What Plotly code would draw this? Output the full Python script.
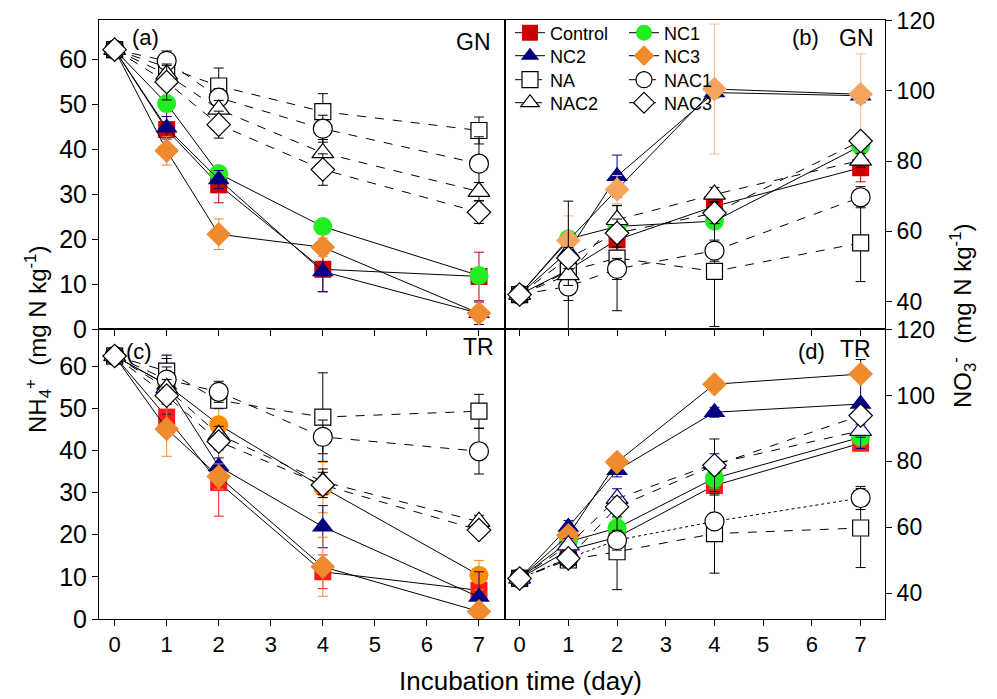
import plotly.graph_objects as go

# ---------------- data ----------------
days = [0, 1, 2, 4, 7]
x_tick_vals = [0, 1, 2, 3, 4, 5, 6, 7]
nh4_ticks = [0, 10, 20, 30, 40, 50, 60]
no3_ticks = [40, 60, 80, 100, 120]
series_names = ["Control", "NC1", "NC2", "NC3", "NA", "NAC1", "NAC2", "NAC3"]

# (a) GN, NH4+
gn_nh4_control = [62.2, 44.4, 32.1, 13.3, 11.7]
gn_nh4_nc1 = [62.2, 50.2, 34.6, 22.8, 11.9]
gn_nh4_nc2 = [62.2, 44.8, 33.3, 12.8, 3.5]
gn_nh4_nc3 = [62.2, 39.7, 21.1, 18.2, 3.5]
gn_nh4_na = [62.2, 58.3, 54.1, 48.4, 44.2]
gn_nh4_nac1 = [62.2, 59.7, 51.5, 44.6, 36.8]
gn_nh4_nac2 = [62.2, 56.7, 48.9, 39.2, 30.6]
gn_nh4_nac3 = [62.2, 55.0, 45.5, 35.5, 26.0]
gn_nh4_control_err = [1.5, 4, 4, 5, 5.4]
gn_nh4_nc1_err = [1, 1.5, 1, 1.5, 1]
gn_nh4_nc2_err = [1, 2.5, 2, 4.5, 2.5]
gn_nh4_nc3_err = [1, 3.2, 3.4, 2, 1.5]
gn_nh4_na_err = [1.5, 1.5, 4, 4, 3]
gn_nh4_nac1_err = [1, 2.2, 2, 3, 6]
gn_nh4_nac2_err = [1.5, 2, 2, 3, 2]
gn_nh4_nac3_err = [1.5, 4, 3, 3.5, 2.5]

# (b) GN, NO3-
gn_no3_control = [42, 49.0, 57.6, 67.1, 78.1]
gn_no3_nc1 = [42, 57.8, 61.4, 62.9, 84.3]
gn_no3_nc2 = [42, 54.3, 75.7, 99.5, 98.6]
gn_no3_nc3 = [42, 57.4, 71.9, 100.5, 99.0]
gn_no3_na = [42, 48.6, 52.4, 48.6, 56.7]
gn_no3_nac1 = [42, 44.3, 49.3, 54.5, 69.7]
gn_no3_nac2 = [42, 47.6, 63.3, 70.5, 80.2]
gn_no3_nac3 = [42, 52.4, 59.5, 65.2, 85.7]
gn_no3_control_err = [1, 6, 3, 2, 4]
gn_no3_nc1_err = [1, 2, 3, 2, 2]
gn_no3_nc2_err = [1, 3, 6, 1.5, 2]
gn_no3_nc3_err = [1, 7, 4, 18.5, 11.5]
gn_no3_na_err = [1, 20, 15, 15.7, 11]
gn_no3_nac1_err = [1, 4, 3, 3, 3]
gn_no3_nac2_err = [1, 3, 4, 2, 2]
gn_no3_nac3_err = [1, 3, 4, 3, 2]

# (c) TR, NH4+
tr_nh4_control = [62.4, 47.9, 32.4, 11.2, 6.8]
tr_nh4_nc1 = [62.4, 55.6, 46.1, 31.2, 10.4]
tr_nh4_nc2 = [62.4, 55.6, 36.2, 21.9, 5.2]
tr_nh4_nc3 = [62.4, 45.1, 33.8, 12.4, 1.8]
tr_nh4_na = [62.4, 58.8, 51.9, 47.9, 49.3]
tr_nh4_nac1 = [62.4, 56.8, 53.9, 43.2, 39.8]
tr_nh4_nac2 = [62.4, 54.8, 43.7, 32.6, 23.1]
tr_nh4_nac3 = [62.4, 53.0, 42.1, 31.8, 21.1]
tr_nh4_control_err = [1.5, 3, 8, 4, 2]
tr_nh4_nc1_err = [1, 7, 5, 6, 3.5]
tr_nh4_nc2_err = [1, 7, 2, 5, 6]
tr_nh4_nc3_err = [1, 6.5, 3, 7, 1]
tr_nh4_na_err = [1, 3, 2, 10.5, 4]
tr_nh4_nac1_err = [1, 3, 2.5, 4, 5.4]
tr_nh4_nac2_err = [1, 2, 2, 3, 1.5]
tr_nh4_nac3_err = [1, 2, 2, 3, 1.5]

# (d) TR, NO3-
tr_no3_control = [44.5, 53.1, 57.0, 72.7, 85.5]
tr_no3_nc1 = [44.5, 55.6, 59.8, 74.9, 87.3]
tr_no3_nc2 = [44.5, 60.1, 77.3, 94.9, 97.4]
tr_no3_nc3 = [44.5, 57.6, 79.8, 103.4, 106.5]
tr_no3_na = [44.5, 50.1, 52.6, 58.1, 59.8]
tr_no3_nac1 = [44.5, 50.6, 56.1, 61.8, 68.9]
tr_no3_nac2 = [44.5, 54.6, 68.7, 79.3, 89.3]
tr_no3_nac3 = [44.5, 50.6, 66.2, 78.8, 93.9]
tr_no3_control_err = [1.5, 2, 3, 3, 2]
tr_no3_nc1_err = [1.5, 2, 3, 3, 2]
tr_no3_nc2_err = [1.5, 2, 2, 1.5, 13.5]
tr_no3_nc3_err = [1.5, 2, 1, 1.5, 1.5]
tr_no3_na_err = [1.5, 2, 11.5, 12, 12]
tr_no3_nac1_err = [1.5, 2, 3, 2, 3.5]
tr_no3_nac2_err = [1.5, 2, 3, 3, 2]
tr_no3_nac3_err = [1.5, 2, 3, 8, 2]

panel_a = dict(zip(series_names, [gn_nh4_control, gn_nh4_nc1, gn_nh4_nc2, gn_nh4_nc3,
                                  gn_nh4_na, gn_nh4_nac1, gn_nh4_nac2, gn_nh4_nac3]))
panel_a_err = dict(zip(series_names, [gn_nh4_control_err, gn_nh4_nc1_err, gn_nh4_nc2_err, gn_nh4_nc3_err,
                                      gn_nh4_na_err, gn_nh4_nac1_err, gn_nh4_nac2_err, gn_nh4_nac3_err]))
panel_b = dict(zip(series_names, [gn_no3_control, gn_no3_nc1, gn_no3_nc2, gn_no3_nc3,
                                  gn_no3_na, gn_no3_nac1, gn_no3_nac2, gn_no3_nac3]))
panel_b_err = dict(zip(series_names, [gn_no3_control_err, gn_no3_nc1_err, gn_no3_nc2_err, gn_no3_nc3_err,
                                      gn_no3_na_err, gn_no3_nac1_err, gn_no3_nac2_err, gn_no3_nac3_err]))
panel_c = dict(zip(series_names, [tr_nh4_control, tr_nh4_nc1, tr_nh4_nc2, tr_nh4_nc3,
                                  tr_nh4_na, tr_nh4_nac1, tr_nh4_nac2, tr_nh4_nac3]))
panel_c_err = dict(zip(series_names, [tr_nh4_control_err, tr_nh4_nc1_err, tr_nh4_nc2_err, tr_nh4_nc3_err,
                                      tr_nh4_na_err, tr_nh4_nac1_err, tr_nh4_nac2_err, tr_nh4_nac3_err]))
panel_d = dict(zip(series_names, [tr_no3_control, tr_no3_nc1, tr_no3_nc2, tr_no3_nc3,
                                  tr_no3_na, tr_no3_nac1, tr_no3_nac2, tr_no3_nac3]))
panel_d_err = dict(zip(series_names, [tr_no3_control_err, tr_no3_nc1_err, tr_no3_nc2_err, tr_no3_nc3_err,
                                      tr_no3_na_err, tr_no3_nac1_err, tr_no3_nac2_err, tr_no3_nac3_err]))

# ---------------- styles ----------------
FONT = "Arial, 'Liberation Sans', sans-serif"
RED = "#CC0000"
RED2 = "#FF1A1A"
GREEN = "#22EE22"
NAVY = "#000080"
ORANGE = "#EF8A2F"
ORANGE_LIGHT = "#F5A560"
ORANGE_ERR_LIGHT = "#F7BE8C"
BRIGHT_ORANGE = "#FF8C00"

base_style = {
    "Control": dict(symbol="square", size=17, fill=RED, edge=RED, ew=0, dash="solid", ecolor=RED),
    "NC1": dict(symbol="circle", size=19, fill=GREEN, edge=GREEN, ew=0, dash="solid", ecolor=GREEN),
    "NC2": dict(symbol="triangle-up", size=19, fill=NAVY, edge=NAVY, ew=0, dash="solid", ecolor=NAVY),
    "NC3": dict(symbol="diamond", size=19, fill=ORANGE, edge=ORANGE, ew=0, dash="solid", ecolor=ORANGE),
    "NA": dict(symbol="square", size=16, fill="white", edge="black", ew=1.2, dash="dash", ecolor="black"),
    "NAC1": dict(symbol="circle", size=19, fill="white", edge="black", ew=1.2, dash="dash", ecolor="black"),
    "NAC2": dict(symbol="triangle-up", size=19, fill="white", edge="black", ew=1.2, dash="dash", ecolor="black"),
    "NAC3": dict(symbol="diamond", size=18, fill="white", edge="black", ew=1.2, dash="dash", ecolor="black"),
}
overrides = {
    "a": {},
    "b": {"NC3": dict(fill=ORANGE_LIGHT, edge=ORANGE_LIGHT, ecolor=ORANGE_ERR_LIGHT)},
    "c": {"Control": dict(fill=RED2, edge=RED2, ecolor=RED2),
          "NC1": dict(fill=BRIGHT_ORANGE, edge=BRIGHT_ORANGE, ecolor=BRIGHT_ORANGE)},
    "d": {"Control": dict(fill=RED2, edge=RED2, ecolor=RED2),
          "NAC2": dict(edge=NAVY, ecolor=NAVY),
          "NAC1": dict(dash="dot")},
}

# legend: one horizontal legend per row, two entries each
legend_row = {"Control": "legend", "NC1": "legend",
              "NC2": "legend2", "NC3": "legend2",
              "NA": "legend3", "NAC1": "legend3",
              "NAC2": "legend4", "NAC3": "legend4"}

panels = [
    ("a", "x", "y", panel_a, panel_a_err),
    ("b", "x2", "y2", panel_b, panel_b_err),
    ("c", "x3", "y3", panel_c, panel_c_err),
    ("d", "x4", "y4", panel_d, panel_d_err),
]

fig = go.Figure()
for key, xa, ya, vals, errs in panels:
    for name in series_names:
        st = dict(base_style[name])
        st.update(overrides[key].get(name, {}))
        fig.add_trace(go.Scatter(
            x=days, y=vals[name], xaxis=xa, yaxis=ya, name=name,
            mode="lines+markers",
            line=dict(color="black", width=1, dash=st["dash"]),
            marker=dict(symbol=st["symbol"], size=st["size"], color=st["fill"],
                        line=dict(color=st["edge"], width=st["ew"])),
            error_y=dict(type="data", array=errs[name], color=st["ecolor"], thickness=1, width=5),
            showlegend=(key == "a"), legend=legend_row[name],
            cliponaxis=True,
        ))

# ---------------- layout ----------------
# page has an 8px body margin: figure pixel = page pixel - 8
OFF = 8
W, H = 989, 691
PLOT_L, PLOT_R, PLOT_T, PLOT_B = 99, 885, 20, 619     # page pixels of plot area
ML = PLOT_L - OFF
MT = PLOT_T - OFF
MR = W - (PLOT_R - OFF)
MB = H - (PLOT_B - OFF)
PW = W - ML - MR
PH = H - MT - MB
XSPLIT = (505 - PLOT_L) / PW
YSPLIT = (PLOT_B - 329) / PH


def px(xpix):
    return (xpix - PLOT_L) / PW


def py(ypix):
    return (PLOT_B - ypix) / PH


xcommon = dict(range=[-0.3, 7.5], tickmode="array", tickvals=x_tick_vals, showgrid=False,
               zeroline=False, showline=True, linecolor="black", linewidth=1, mirror=True,
               ticks="outside", ticklen=6, tickcolor="black",
               tickfont=dict(family=FONT, size=22, color="black"))
ynh4 = dict(range=[0, 68.8], tickmode="array", tickvals=nh4_ticks, showgrid=False, zeroline=False,
            showline=True, linecolor="black", linewidth=1, mirror=True, ticks="outside", ticklen=6,
            tickcolor="black", tickfont=dict(family=FONT, size=25, color="black"))
yno3 = dict(range=[32.2, 120.15], tickmode="array", tickvals=no3_ticks, showgrid=False, zeroline=False,
            showline=True, linecolor="black", linewidth=1, mirror=True, ticks="outside", ticklen=6,
            tickcolor="black", side="right", ticklabeloverflow="allow",
            tickfont=dict(family=FONT, size=23, color="black"))


def row_legend(ypix):
    return dict(x=px(510), y=py(ypix), xanchor="left", yanchor="middle", orientation="h",
                bgcolor="rgba(0,0,0,0)", font=dict(family=FONT, size=18, color="black"),
                itemwidth=30, entrywidth=69, entrywidthmode="pixels")


fig.update_layout(
    width=W, height=H,
    margin=dict(l=ML, r=MR, t=MT, b=MB, autoexpand=False),
    paper_bgcolor="white", plot_bgcolor="white",
    font=dict(family=FONT, color="black"),
    xaxis=dict(xcommon, domain=[0, XSPLIT], anchor="y", showticklabels=False),
    yaxis=dict(ynh4, domain=[YSPLIT, 1], anchor="x"),
    xaxis2=dict(xcommon, domain=[XSPLIT, 1], anchor="y2", showticklabels=False),
    yaxis2=dict(yno3, domain=[YSPLIT, 1], anchor="x2"),
    xaxis3=dict(xcommon, domain=[0, XSPLIT], anchor="y3"),
    yaxis3=dict(ynh4, domain=[0, YSPLIT], anchor="x3"),
    xaxis4=dict(xcommon, domain=[XSPLIT, 1], anchor="y4"),
    yaxis4=dict(yno3, domain=[0, YSPLIT], anchor="x4"),
    legend=row_legend(33),
    legend2=row_legend(56),
    legend3=row_legend(80),
    legend4=row_legend(103),
)

ann = []


def add_text(text, xpix, ypix, size=22, xanchor="center", angle=0):
    ann.append(dict(text=text, x=px(xpix), y=py(ypix), xref="paper", yref="paper",
                    xanchor=xanchor, yanchor="middle", showarrow=False, textangle=angle,
                    font=dict(family=FONT, size=size, color="black")))


add_text("(a)", 145, 37)
add_text("GN", 493, 42, xanchor="right", size=23)
add_text("(b)", 805, 38)
add_text("GN", 876, 38, xanchor="right", size=23)
add_text("(c)", 139, 351)
add_text("TR", 496, 347, xanchor="right", size=23)
add_text("(d)", 811, 351)
add_text("TR", 873, 349, xanchor="right", size=23)
add_text("NH<sub>4</sub><sup>+</sup>  (mg N kg<sup>-1</sup>)", 38, 340, size=24, angle=-90)
add_text("NO<sub>3</sub><sup>-</sup>  (mg N kg<sup>-1</sup>)", 963, 316, size=24, angle=-90)
add_text("Incubation time (day)", 520, 681, size=26)
fig.update_layout(annotations=ann)

fig.write_html("out.html")
